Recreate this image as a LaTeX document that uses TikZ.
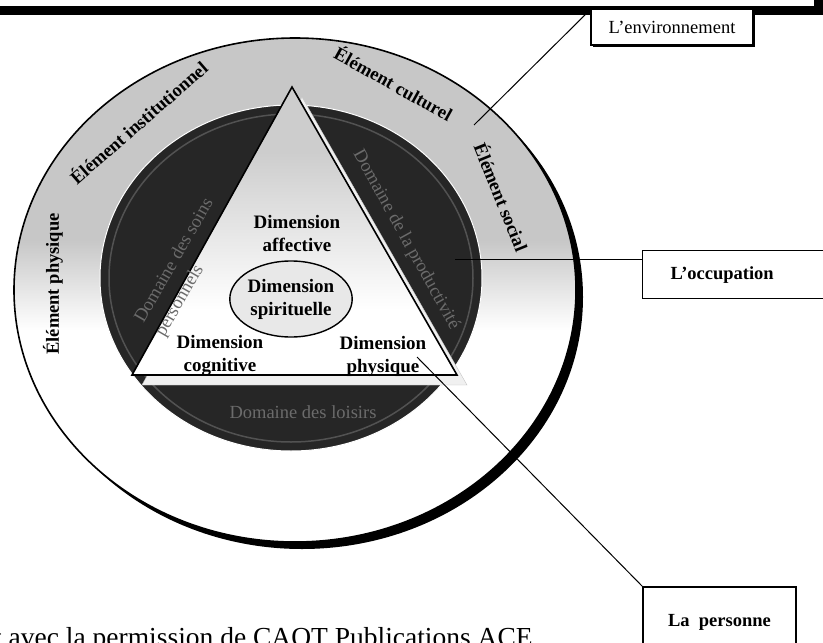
\documentclass[tikz,border=0pt]{standalone}
\usepackage{fontspec}
\setmainfont{Liberation Serif}
\usetikzlibrary{shapes.geometric,shadows}

\definecolor{ringgrey}{gray}{0.78}
\definecolor{domdark}{gray}{0.15}
\definecolor{domrim}{gray}{0.32}
\definecolor{domtext}{gray}{0.42}

\begin{document}
\begin{tikzpicture}[x=1pt,y=-1pt,
  dimlabel/.style={font=\fontsize{19}{23}\selectfont\bfseries,align=center,inner sep=1pt},
  ringlabel/.style={font=\fontsize{18.5}{20}\selectfont\bfseries,inner sep=0pt},
  domlabel/.style={font=\fontsize{18.5}{20}\selectfont,text=domtext,inner sep=0pt},
  labelbox/.style={draw,fill=white,line width=1.2pt,font=\fontsize{18.5}{20}\selectfont}]
  \useasboundingbox (0,0) rectangle (823,643);
  \clip (0,0) rectangle (823,643);

  % frame edge at the top
  \fill[black] (0,6) rectangle (823,15);
  \fill[black] (814,0) rectangle (823,15);

  % environnement ring
  \fill[black] (302,297) ellipse [x radius=281,y radius=252];
  \fill[white] (295,290) ellipse [x radius=281,y radius=252];
  \begin{scope}
    \clip (295,290) ellipse [x radius=281,y radius=252];
    \fill[ringgrey] (0,30) rectangle (823,240);
    \shade[top color=ringgrey,bottom color=white] (0,240) rectangle (823,330);
  \end{scope}
  \draw[line width=1.6pt] (295,290) ellipse [x radius=281,y radius=252];

  % occupation disc
  \fill[domdark,draw=white,line width=1pt] (291,278) ellipse [x radius=191,y radius=173];
  \draw[domrim,line width=1.5pt] (291,278) ellipse [x radius=182,y radius=164];

  % person triangle
  \coordinate (apex) at (292,87);
  \coordinate (left) at (132,375);
  \coordinate (right) at (457,375);
  \fill[gray!12,draw=gray!45] ([shift={(10,10)}]apex) -- ([shift={(10,10)}]left)
    -- ([shift={(10,10)}]right) -- cycle;
  \begin{scope}
    \clip (apex) -- (left) -- (right) -- cycle;
    \fill[white] (100,80) rectangle (480,390);
    \fill[ringgrey!90] (100,80) rectangle (480,150);
    \shade[top color=ringgrey!90,bottom color=white] (100,150) rectangle (480,310);
  \end{scope}
  \draw[line width=1.6pt,line join=miter] (apex) -- (left) -- (right) -- cycle;

  \node[dimlabel] (affect) at (297,233) {Dimension\\affective};
  \node[dimlabel,ellipse,draw,line width=1.4pt,fill=gray!18,minimum width=114pt,
    minimum height=76pt,inner sep=0pt] (spirit) at (291,299) {Dimension\\spirituelle};
  \node[dimlabel] (cogn) at (220,356) {Dimension\\cognitive};
  \node[dimlabel] (phys) at (383,356) {Dimension\\physique};

  \node[domlabel,rotate=60] (soins) at (173,260) {Domaine des soins};
  \node[domlabel,rotate=60] (soinsb) at (180,301) {personnels};
  \node[domlabel,rotate=-61] (prod) at (406,240) {Domaine de la productivité};
  \node[domlabel] (loisirs) at (303,412) {Domaine des loisirs};

  \node[ringlabel,rotate=41] (instit) at (138,122) {Élément institutionnel};
  \node[ringlabel,rotate=-29] (cult) at (394,83) {Élément culturel};
  \node[ringlabel,rotate=-68] (social) at (502,197) {Élément social};
  \node[ringlabel,rotate=90] (physel) at (53,284) {Élément physique};

  % boxes and leaders
  \coordinate (envtip) at (474,125);
  \coordinate (occtip) at (455,259);
  \coordinate (phystip) at (417,357);
  \draw[line width=1pt] (envtip) -- (591,9);
  \node[labelbox,minimum width=162pt,minimum height=36pt,
    drop shadow={shadow xshift=2pt,shadow yshift=-2pt,opacity=1,fill=black}]
    (envbox) at (672,27) {L’environnement};
  \node[labelbox,font=\fontsize{18.5}{20}\selectfont\bfseries,anchor=north west,
    minimum height=48pt,text width=172pt,inner xsep=28pt,align=left]
    (occbox) at (642,250) {L’occupation};
  \node[labelbox,font=\fontsize{18.5}{20}\selectfont\bfseries,minimum width=153pt,
    minimum height=70pt] (perbox) at (719.5,622) {La\enspace personne};
  \draw[line width=1pt] (occtip) -- (occtip -| occbox.west);
  \draw[line width=1pt] (phystip) -- (perbox.north west);

  \node[font=\fontsize{27.5}{30}\selectfont,anchor=base west,inner sep=0pt]
    (source) at (-6,646) {t avec la permission de CAOT Publications ACE};
\end{tikzpicture}
\end{document}
